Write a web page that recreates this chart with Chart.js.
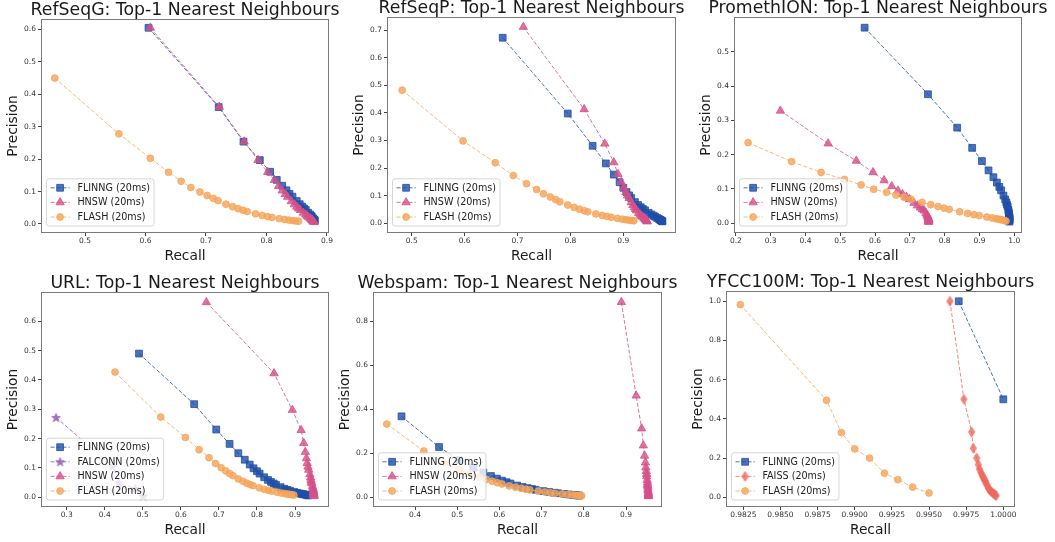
<!DOCTYPE html>
<html>
<head>
<meta charset="utf-8">
<script src="https://cdn.jsdelivr.net/npm/chart.js@4.4.0/dist/chart.umd.min.js"></script>
<style>
  html, body { margin: 0; padding: 0; background: #fff; }
  #fig { position: relative; width: 1055px; height: 542px; overflow: hidden; background: #fff; }
  #fig canvas { position: absolute; }
</style>
</head>
<body>
<div id="fig"></div>
<script>
// ---- data (recall on x, precision on y) ----
const refseqGFlinngX = [0.605,0.721,0.762,0.789,0.806,0.817,0.826,0.833,0.838,0.843,0.850,0.855,0.859,0.862,0.865,0.869,0.872,0.874,0.875,0.877,0.878,0.879,0.880];
const refseqGFlinngY = [0.605,0.3605,0.254,0.197,0.161,0.136,0.118,0.104,0.093,0.0843,0.0708,0.0611,0.0537,0.0479,0.0433,0.0348,0.0291,0.025,0.0219,0.0175,0.0146,0.0126,0.011];
const refseqGHnswX = [0.608,0.722,0.763,0.786,0.802,0.813,0.820,0.826,0.831,0.835,0.841,0.846,0.850,0.853,0.856,0.861,0.865,0.867,0.869,0.872,0.874,0.875,0.876,0.877,0.878,0.879];
const refseqGHnswY = [0.605,0.361,0.254,0.197,0.160,0.1355,0.117,0.103,0.0923,0.0835,0.070,0.0604,0.0531,0.0474,0.0428,0.0344,0.0288,0.0248,0.0217,0.0174,0.0146,0.0125,0.011,0.0088,0.0068,0.0055];
const refseqGFlashX = [0.45,0.556,0.608,0.638,0.659,0.675,0.690,0.702,0.712,0.720,0.733,0.744,0.753,0.761,0.768,0.782,0.793,0.802,0.809,0.821,0.830,0.837,0.843,0.848,0.853];
const refseqGFlashY = [0.45,0.278,0.2027,0.1595,0.1318,0.1125,0.0986,0.0878,0.0791,0.072,0.0611,0.0531,0.0471,0.0423,0.0384,0.0313,0.0264,0.0229,0.0202,0.0164,0.0138,0.012,0.0105,0.0094,0.0085];

const refseqPFlinngX = [0.672,0.795,0.842,0.867,0.882,0.893,0.900,0.906,0.911,0.915,0.922,0.928,0.933,0.937,0.941,0.948,0.953,0.957,0.960,0.964,0.967,0.969,0.970,0.971,0.972,0.973,0.974];
const refseqPFlinngY = [0.672,0.3975,0.2807,0.2168,0.1764,0.1488,0.1286,0.1133,0.1012,0.0915,0.0768,0.0663,0.0583,0.0521,0.0471,0.0379,0.0318,0.0273,0.024,0.0193,0.0161,0.0138,0.0121,0.0108,0.0097,0.0081,0.007];
const refseqPHnswX = [0.711,0.826,0.865,0.882,0.890,0.896,0.901,0.905,0.908,0.911,0.915,0.918,0.921,0.923,0.925,0.929,0.932,0.934,0.936,0.939,0.941,0.942,0.943,0.944,0.945,0.945];
const refseqPHnswY = [0.711,0.413,0.2883,0.2205,0.178,0.1493,0.1287,0.1131,0.1009,0.0911,0.0763,0.0656,0.0576,0.0513,0.0463,0.0372,0.0311,0.0267,0.0234,0.0188,0.0157,0.0135,0.0118,0.0094,0.0079,0.0063];
const refseqPFlashX = [0.482,0.597,0.658,0.692,0.717,0.736,0.749,0.762,0.772,0.780,0.795,0.807,0.817,0.826,0.833,0.848,0.860,0.869,0.877,0.889,0.898,0.905,0.911,0.916,0.920];
const refseqPFlashY = [0.482,0.2985,0.2193,0.173,0.1434,0.1227,0.107,0.0953,0.0858,0.078,0.0663,0.0576,0.0511,0.0459,0.0417,0.0339,0.0287,0.0248,0.0219,0.0178,0.015,0.0129,0.0114,0.0102,0.0092];

const promFlinngX = [0.570,0.752,0.836,0.879,0.907,0.926,0.940,0.950,0.957,0.962,0.969,0.974,0.977,0.979,0.981,0.983,0.984,0.985,0.985,0.986,0.986,0.986,0.986,0.986,0.986,0.986];
const promFlinngY = [0.570,0.376,0.2787,0.2198,0.1814,0.1543,0.1343,0.1188,0.1063,0.0962,0.0808,0.0696,0.0611,0.0544,0.049,0.0393,0.0328,0.0281,0.0246,0.0197,0.0164,0.0141,0.0123,0.0099,0.0076,0.0049];
const promHnswX = [0.328,0.465,0.546,0.594,0.626,0.648,0.666,0.679,0.690,0.699,0.712,0.722,0.730,0.736,0.741,0.746,0.749,0.751,0.752,0.753,0.754,0.754,0.754,0.754,0.754,0.754];
const promHnswY = [0.328,0.2325,0.182,0.1485,0.1252,0.108,0.0951,0.0849,0.0767,0.0699,0.0593,0.0516,0.0456,0.0409,0.0371,0.0298,0.025,0.0215,0.0188,0.0151,0.0126,0.0108,0.0094,0.0075,0.005,0.0038];
const promFlashX = [0.235,0.360,0.445,0.512,0.560,0.596,0.633,0.660,0.683,0.703,0.735,0.760,0.781,0.798,0.813,0.843,0.866,0.884,0.899,0.921,0.936,0.947,0.955,0.961,0.966,0.972,0.976];
const promFlashY = [0.235,0.18,0.1483,0.128,0.112,0.0993,0.0904,0.0825,0.0759,0.0703,0.0613,0.0543,0.0488,0.0443,0.0407,0.0337,0.0289,0.0253,0.0225,0.0184,0.0156,0.0135,0.0119,0.0107,0.0097,0.0081,0.0065];

const urlFlinngX = [0.490,0.635,0.693,0.728,0.751,0.768,0.781,0.791,0.800,0.807,0.819,0.829,0.837,0.844,0.850,0.862,0.872,0.880,0.887,0.898,0.906,0.913,0.918,0.922,0.926,0.931,0.935];
const urlFlinngY = [0.490,0.3175,0.231,0.182,0.1502,0.128,0.1116,0.0989,0.0889,0.0807,0.0683,0.0592,0.0523,0.0469,0.0425,0.0345,0.0291,0.0251,0.0222,0.018,0.0151,0.013,0.0115,0.0102,0.0093,0.0078,0.0062];
const urlFalconnX = [0.272,0.421,0.437,0.480,0.501];
const urlFalconnY = [0.272,0.105,0.049,0.030,0.004];
const urlHnswX = [0.667,0.845,0.893,0.916,0.923,0.927,0.930,0.932,0.934,0.936,0.939,0.941,0.942,0.943,0.944,0.946,0.947,0.948,0.948,0.949,0.949,0.949,0.949,0.949,0.950,0.950,0.950];
const urlHnswY = [0.665,0.4225,0.2977,0.229,0.1846,0.1545,0.1329,0.1165,0.1038,0.0936,0.0783,0.0672,0.0589,0.0524,0.0472,0.0378,0.0316,0.0271,0.0237,0.019,0.0158,0.0136,0.0119,0.0095,0.0073,0.0056,0.0038];
const urlFlashX = [0.427,0.547,0.612,0.648,0.674,0.691,0.706,0.718,0.728,0.737,0.751,0.763,0.773,0.782,0.790,0.806,0.819,0.830,0.839,0.853,0.864,0.873,0.880,0.886,0.891,0.897];
const urlFlashY = [0.427,0.2735,0.204,0.162,0.1348,0.1152,0.1009,0.0898,0.0809,0.0737,0.0626,0.0545,0.0483,0.0434,0.0395,0.0322,0.0273,0.0237,0.021,0.0171,0.0144,0.0125,0.011,0.0098,0.0089,0.0075];

const spamFlinngX = [0.368,0.457,0.505,0.538,0.562,0.580,0.594,0.606,0.617,0.626,0.642,0.655,0.667,0.677,0.686,0.704,0.718,0.730,0.739,0.754,0.765,0.774,0.780,0.785,0.789];
const spamFlinngY = [0.368,0.2285,0.1683,0.1345,0.1124,0.0967,0.0849,0.0758,0.0686,0.0626,0.0535,0.0468,0.0417,0.0376,0.0343,0.0282,0.0239,0.0209,0.0185,0.0151,0.0128,0.0111,0.0098,0.0087,0.0079];
const spamHnswX = [0.889,0.924,0.937,0.941,0.944,0.946,0.947,0.948,0.949,0.949,0.950,0.951,0.951,0.951,0.952,0.952,0.952,0.953,0.953,0.953,0.953,0.953,0.953];
const spamHnswY = [0.887,0.462,0.3123,0.2353,0.1888,0.1577,0.1353,0.1185,0.1054,0.0949,0.0792,0.0679,0.0594,0.0528,0.0476,0.0381,0.0317,0.0238,0.0191,0.0136,0.0095,0.0064,0.0048];
const spamFlashX = [0.333,0.421,0.470,0.505,0.531,0.552,0.569,0.583,0.595,0.606,0.623,0.638,0.651,0.662,0.672,0.692,0.708,0.721,0.732,0.749,0.762,0.772,0.780,0.786,0.791,0.795];
const spamFlashY = [0.333,0.2105,0.1567,0.1263,0.1062,0.092,0.0813,0.0729,0.0661,0.0606,0.0519,0.0456,0.0407,0.0368,0.0336,0.0277,0.0236,0.0206,0.0183,0.015,0.0127,0.011,0.0098,0.0087,0.0079,0.0066];

const yfccFlinngX = [0.9970,1.0000];
const yfccFlinngY = [1.0,0.5];
const yfccFaissX = [0.99641,0.99735,0.99787,0.99798,0.99821,0.99832,0.99840,0.99850,0.99858,0.99866,0.99872,0.99878,0.99885,0.99892,0.99900,0.99910,0.99920,0.99930,0.99938,0.99945,0.99952];
const yfccFaissY = [1.0,0.5,0.333,0.25,0.2,0.167,0.143,0.125,0.111,0.1,0.091,0.083,0.07,0.06,0.045,0.035,0.028,0.022,0.017,0.012,0.008];
const yfccFlashX = [0.9823,0.9881,0.9891,0.9900,0.9910,0.9920,0.9929,0.9939,0.9950];
const yfccFlashY = [0.983,0.495,0.330,0.247,0.200,0.123,0.090,0.052,0.022];

// tick values
const ticksG_x = [0.5,0.6,0.7,0.8,0.9], ticksG_y = [0,0.1,0.2,0.3,0.4,0.5,0.6];
const ticksP_x = [0.5,0.6,0.7,0.8,0.9], ticksP_y = [0,0.1,0.2,0.3,0.4,0.5,0.6,0.7];
const ticksM_x = [0.2,0.3,0.4,0.5,0.6,0.7,0.8,0.9,1.0], ticksM_y = [0,0.1,0.2,0.3,0.4,0.5];
const ticksU_x = [0.3,0.4,0.5,0.6,0.7,0.8,0.9], ticksU_y = [0,0.1,0.2,0.3,0.4,0.5,0.6];
const ticksW_x = [0.4,0.5,0.6,0.7,0.8,0.9], ticksW_y = [0,0.2,0.4,0.6,0.8];
const ticksY_x = [0.9825,0.985,0.9875,0.99,0.9925,0.995,0.9975,1.0], ticksY_y = [0,0.2,0.4,0.6,0.8,1.0];

// ---- styling ----
const BLUE = [31,79,166], PINK = [214,80,138], ORANGE = [245,165,90], PURPLE = [148,82,178], SALMON = [238,105,95];
const rgba = (c, a) => `rgba(${c[0]},${c[1]},${c[2]},${a})`;

function starImg(c){
  const s = 11, cv = document.createElement('canvas');
  cv.width = s; cv.height = s;
  const g = cv.getContext('2d');
  g.beginPath();
  for (let i = 0; i < 10; i++) {
    const r = i % 2 ? 1.9 : 4.7, a = -Math.PI/2 + i*Math.PI/5;
    g.lineTo(s/2 + r*Math.cos(a), s/2 + 0.4 + r*Math.sin(a));
  }
  g.closePath();
  g.fillStyle = rgba(c, 0.8); g.fill();
  g.lineWidth = 0.8; g.strokeStyle = rgba(c, 0.8); g.stroke();
  return cv;
}
function diamondImg(c){
  const w = 9, h = 12, cv = document.createElement('canvas');
  cv.width = w; cv.height = h;
  const g = cv.getContext('2d');
  g.beginPath();
  g.moveTo(w/2, 1); g.lineTo(w - 1.3, h/2); g.lineTo(w/2, h - 1); g.lineTo(1.3, h/2);
  g.closePath();
  g.fillStyle = rgba(c, 0.8); g.fill();
  g.lineWidth = 0.8; g.strokeStyle = rgba(c, 0.8); g.stroke();
  return cv;
}

const MARK = {
  square: ['rect', 4.8],
  tri: ['triangle', 4.8],
  circle: ['circle', 3.4],
};

function series(label, xs, ys, c, mark, i){
  const [style, r] = typeof mark === 'string' ? MARK[mark] : [mark, 4];
  return {
    label, order: -i,
    data: xs.map((x, k) => ({x, y: ys[k]})),
    showLine: true, fill: false, tension: 0,
    borderColor: rgba(c, 0.8), borderWidth: 1, borderDash: [4, 2],
    pointStyle: style, pointRadius: r, pointHoverRadius: r,
    pointBackgroundColor: rgba(c, 0.8), pointBorderColor: rgba(c, 0.8), pointBorderWidth: 1
  };
}

const panels = [
  { title: 'RefSeqG: Top-1 Nearest Neighbours', L: 42, T: 20, R: 328, B: 232,
    x: [0.4289, 0.9017, ticksG_x, 1], y: [-0.0247, 0.629, ticksG_y, 1],
    sets: [series('FLINNG (20ms)', refseqGFlinngX, refseqGFlinngY, BLUE, 'square', 0),
           series('HNSW (20ms)', refseqGHnswX, refseqGHnswY, PINK, 'tri', 1),
           series('FLASH (20ms)', refseqGFlashX, refseqGFlashY, ORANGE, 'circle', 2)] },
  { title: 'RefSeqP: Top-1 Nearest Neighbours', L: 388, T: 18, R: 675, B: 232,
    x: [0.4552, 0.9977, ticksP_x, 1], y: [-0.0315, 0.7435, ticksP_y, 1],
    sets: [series('FLINNG (20ms)', refseqPFlinngX, refseqPFlinngY, BLUE, 'square', 0),
           series('HNSW (20ms)', refseqPHnswX, refseqPHnswY, PINK, 'tri', 1),
           series('FLASH (20ms)', refseqPFlashX, refseqPFlashY, ORANGE, 'circle', 2)] },
  { title: 'PromethION: Top-1 Nearest Neighbours', L: 735, T: 18, R: 1021, B: 232,
    x: [0.1975, 1.0193, ticksM_x, 1], y: [-0.0253, 0.5982, ticksM_y, 1],
    sets: [series('FLINNG (20ms)', promFlinngX, promFlinngY, BLUE, 'square', 0),
           series('HNSW (20ms)', promHnswX, promHnswY, PINK, 'tri', 1),
           series('FLASH (20ms)', promFlashX, promFlashY, ORANGE, 'circle', 2)] },
  { title: 'URL: Top-1 Nearest Neighbours', L: 42, T: 293, R: 328, B: 506,
    x: [0.2351, 0.9867, ticksU_x, 1], y: [-0.0297, 0.6965, ticksU_y, 1],
    sets: [series('FLINNG (20ms)', urlFlinngX, urlFlinngY, BLUE, 'square', 0),
           series('FALCONN (20ms)', urlFalconnX, urlFalconnY, PURPLE, starImg(PURPLE), 1),
           series('HNSW (20ms)', urlHnswX, urlHnswY, PINK, 'tri', 2),
           series('FLASH (20ms)', urlFlashX, urlFlashY, ORANGE, 'circle', 3)] },
  { title: 'Webspam: Top-1 Nearest Neighbours', L: 374, T: 293, R: 661, B: 506,
    x: [0.3028, 0.9829, ticksW_x, 1], y: [-0.0395, 0.9286, ticksW_y, 1],
    sets: [series('FLINNG (20ms)', spamFlinngX, spamFlinngY, BLUE, 'square', 0),
           series('HNSW (20ms)', spamHnswX, spamHnswY, PINK, 'tri', 1),
           series('FLASH (20ms)', spamFlashX, spamFlashY, ORANGE, 'circle', 2)] },
  { title: 'YFCC100M: Top-1 Nearest Neighbours', L: 727, T: 292, R: 1014, B: 506,
    x: [0.981403, 1.00072, ticksY_x, 4], y: [-0.0444, 1.0474, ticksY_y, 1],
    sets: [series('FLINNG (20ms)', yfccFlinngX, yfccFlinngY, BLUE, 'square', 0),
           series('FAISS (20ms)', yfccFaissX, yfccFaissY, SALMON, diamondImg(SALMON), 1),
           series('FLASH (20ms)', yfccFlashX, yfccFlashY, ORANGE, 'circle', 2)] },
];

// ---- plugins ----
const frame = {
  id: 'frame',
  afterDatasetsDraw(chart){
    const {ctx, chartArea: a} = chart;
    ctx.save();
    ctx.strokeStyle = '#7a7a7a'; ctx.lineWidth = 1;
    ctx.strokeRect(a.left - 0.5, a.top - 0.5, a.right - a.left + 1, a.bottom - a.top + 1);
    ctx.restore();
  }
};

const boxLegend = {
  id: 'boxLegend',
  afterDraw(chart){
    const {ctx, chartArea: a} = chart;
    const sets = chart.data.datasets;
    const fs = 9.6, pad = 4, hl = 19.2, gap = 7.7, rowH = 10, sp = 4.6;
    ctx.save();
    ctx.font = fs + 'px "DejaVu Sans"';
    const tw = Math.max(...sets.map(d => ctx.measureText(d.label).width));
    const w = pad*2 + hl + gap + tw, h = pad*2 + sets.length*rowH + (sets.length - 1)*sp;
    const x0 = a.left + 4.5, y0 = a.bottom - 6 - h;
    ctx.beginPath();
    if (ctx.roundRect) ctx.roundRect(x0, y0, w, h, 2.5); else ctx.rect(x0, y0, w, h);
    ctx.fillStyle = 'rgba(255,255,255,0.8)'; ctx.fill();
    ctx.strokeStyle = 'rgba(204,204,204,0.8)'; ctx.lineWidth = 1; ctx.stroke();
    sets.forEach((d, i) => {
      const cy = y0 + pad + i*(rowH + sp) + rowH/2;
      ctx.setLineDash([4, 2]);
      ctx.strokeStyle = d.borderColor; ctx.lineWidth = 1;
      ctx.beginPath(); ctx.moveTo(x0 + pad, cy); ctx.lineTo(x0 + pad + hl, cy); ctx.stroke();
      ctx.setLineDash([]);
      ctx.fillStyle = d.pointBackgroundColor; ctx.strokeStyle = d.pointBorderColor;
      Chart.helpers.drawPoint(ctx, {pointStyle: d.pointStyle, radius: d.pointRadius, borderWidth: 1, rotation: 0}, x0 + pad + hl/2, cy);
      ctx.fillStyle = '#222'; ctx.textBaseline = 'middle'; ctx.textAlign = 'left';
      ctx.fillText(d.label, x0 + pad + hl + gap, cy + 0.5);
    });
    ctx.restore();
  }
};

// ---- build charts ----
Chart.defaults.font.family = '"DejaVu Sans"';
const fig = document.getElementById('fig');
const YW = 37, XH = 33, TH = 20;

function axis(spec, horizontal, label){
  const [min, max, ticks, dec] = spec;
  return {
    type: 'linear', min, max, bounds: 'data',
    afterBuildTicks: s => { s.ticks = ticks.map(v => ({value: v})); },
    afterFit: horizontal
      ? s => { s.height = XH; s.paddingLeft = 0; s.paddingRight = 0; }
      : s => { s.width = YW; s.paddingTop = 0; s.paddingBottom = 0; },
    grid: { drawOnChartArea: false, drawTicks: true, tickLength: 4, tickColor: '#444', lineWidth: 1 },
    border: { display: false },
    ticks: { autoSkip: false, maxRotation: 0, minRotation: 0, padding: horizontal ? 1 : 2,
             color: '#333', font: {size: 7.5}, callback: v => Number(v).toFixed(dec) },
    title: { display: true, text: label, color: '#1a1a1a', font: {size: 13.8}, padding: 0 }
  };
}

// empty right-hand axis, only there so the title centres over the plot box
const spacer = {
  position: 'right', min: 0, max: 1,
  afterFit: s => { s.width = YW; s.paddingTop = 0; s.paddingBottom = 0; },
  grid: { display: false }, border: { display: false }, ticks: { display: false }
};

panels.forEach(p => {
  const cv = document.createElement('canvas');
  const w = YW + (p.R - p.L) + YW, h = TH + (p.B - p.T) + XH + 2;
  cv.width = w; cv.height = h;
  cv.style.left = (p.L - YW) + 'px'; cv.style.top = (p.T - TH) + 'px';
  cv.style.width = w + 'px'; cv.style.height = h + 'px';
  fig.appendChild(cv);
  new Chart(cv.getContext('2d'), {
    type: 'scatter',
    data: { datasets: p.sets },
    options: {
      responsive: false, animation: false, devicePixelRatio: 1,
      layout: { padding: { left: 0, right: 0, top: 0, bottom: 2 } },
      scales: { x: axis(p.x, true, 'Recall'), y: axis(p.y, false, 'Precision'), yr: spacer },
      plugins: {
        legend: { display: false }, tooltip: { enabled: false },
        title: { display: true, text: p.title, color: '#1a1a1a',
                 font: { size: 17.3, weight: 'normal', lineHeight: 1 }, padding: { top: 1.5, bottom: 1.2 } }
      }
    },
    plugins: [frame, boxLegend]
  });
});
</script>
</body>
</html>
